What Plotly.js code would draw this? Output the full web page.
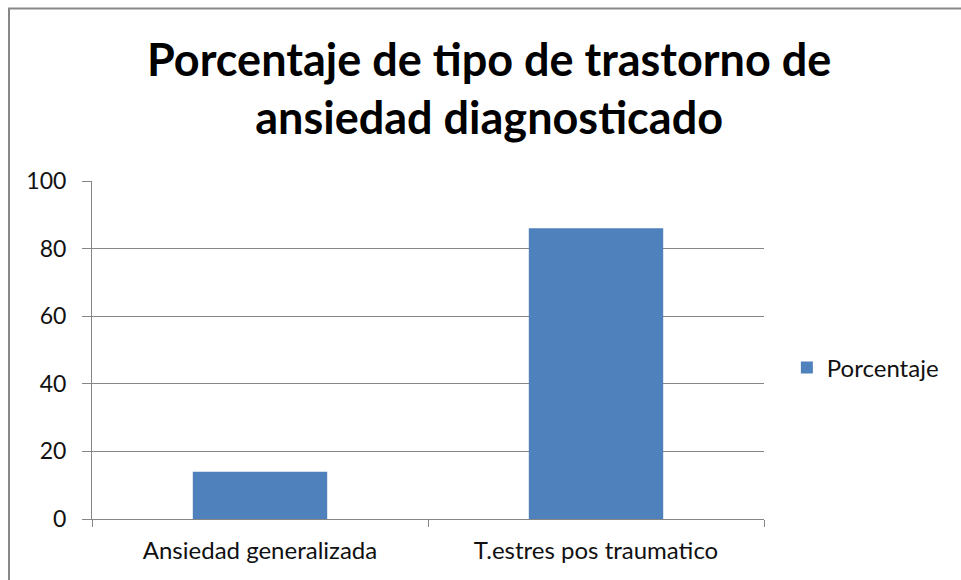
<!DOCTYPE html>
<html><head><meta charset="utf-8">
<script src="https://cdn.plot.ly/plotly-3.0.1.min.js"></script>
<style>html,body{margin:0;padding:0;background:#fff;}#chart{width:961px;height:580px;}</style>
</head><body><div id="chart"></div>
<script>
const categories = ["Ansiedad generalizada", "T.estres pos traumatico"];
const values = [14, 86];
const seriesName = "Porcentaje";
const yTicks = [0, 20, 40, 60, 80, 100];

const fontFam = "Lato, 'Open Sans', sans-serif";
const trace = {
  type: "bar", x: categories, y: values, name: seriesName,
  marker: {color: "#4F81BD"}, showlegend: true
};
const layout = {
  width: 961, height: 580,
  margin: {l: 92, r: 197, t: 181, b: 61},
  paper_bgcolor: "#fff", plot_bgcolor: "#fff",
  title: {text: "Porcentaje de tipo de trastorno de<br>ansiedad diagnosticado",
    font: {family: fontFam, size: 45, color: "#000", weight: "bold"},
    x: 0.509, xanchor: "center", y: 0.869, yanchor: "top"},
  bargap: 0.6,
  xaxis: {showline: true, linecolor: "#868686", linewidth: 1,
    ticks: "outside", tickson: "boundaries", ticklen: 7, tickcolor: "#868686",
    tickfont: {family: fontFam, size: 24, color: "#111"}, showgrid: false, ticklabelstandoff: 10},
  yaxis: {range: [0, 100], tickvals: yTicks, showline: true, linecolor: "#868686",
    ticks: "outside", ticklen: 9, tickcolor: "#868686", gridcolor: "#868686",
    zeroline: false, tickfont: {family: fontFam, size: 23, color: "#111"}, ticklabelstandoff: 11},
  legend: {x: 1.034, y: 0.447, yanchor: "middle", xanchor: "left",
    font: {family: fontFam, size: 24, color: "#111"}, itemwidth: 30, tracegroupgap: 0},
  shapes: [{type: "rect", xref: "paper", yref: "paper",
    x0: (9 - 92) / 672, x1: 2, y0: -1, y1: (519 - 8.5) / 338,
    line: {color: "#888", width: 2}, layer: "below"}]
};
Plotly.newPlot("chart", [trace], layout, {displayModeBar: false, staticPlot: true});
</script></body></html>
